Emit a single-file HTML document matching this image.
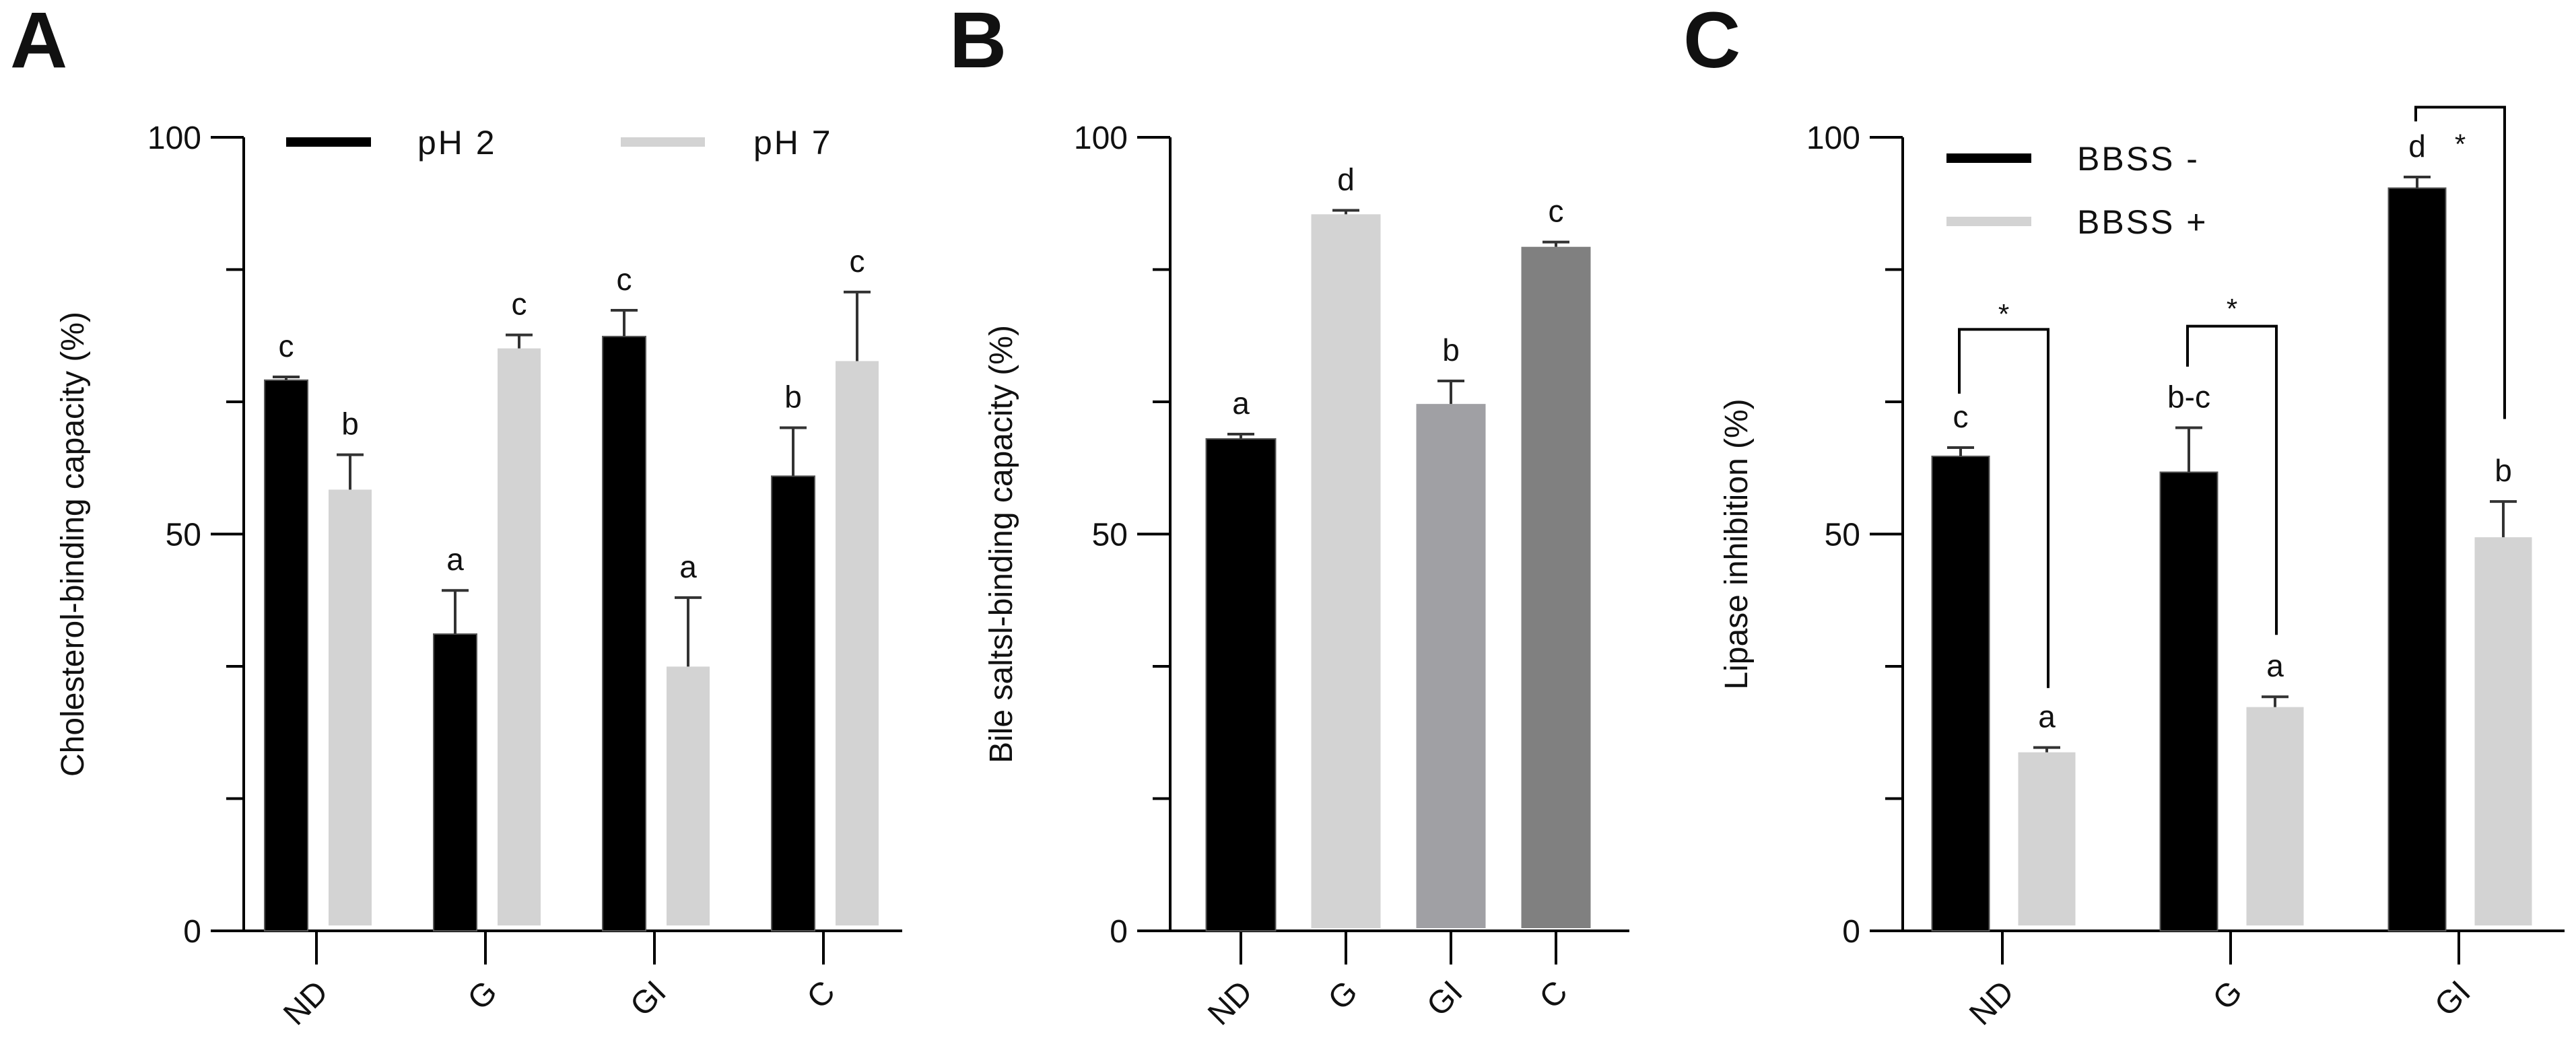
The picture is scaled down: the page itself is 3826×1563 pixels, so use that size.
<!DOCTYPE html>
<html><head><meta charset="utf-8">
<style>
html,body{margin:0;padding:0;background:#fff;}
svg{display:block;}
text{font-family:"Liberation Sans",Arial,sans-serif;fill:#111;}
</style></head>
<body>
<svg id="fig" width="3826" height="1563" viewBox="0 0 3826 1563" xmlns="http://www.w3.org/2000/svg">
<text x="15" y="100" font-size="118" font-weight="bold">A</text>
<text x="1410" y="100" font-size="118" font-weight="bold">B</text>
<text x="2500" y="100" font-size="118" font-weight="bold">C</text>
<g id="pa"></g>
<g id="pb"></g>
<g id="pc"></g>
</svg>
<script>
// Panel A data
const catsA = ["ND","G","GI","C"];
const ph2Vals = [69.4, 37.4, 74.9, 57.3];
const ph2Err = [0.4, 5.5, 3.3, 6.1];
const ph2Letters = ["c","a","c","b"];
const ph7Vals = [55.6, 73.4, 33.3, 71.8];
const ph7Err = [4.4, 1.7, 8.7, 8.7];
const ph7Letters = ["b","c","a","c"];
// Panel B data
const catsB = ["ND","G","GI","C"];
const bileVals = [62.0, 90.3, 66.4, 86.2];
const bileErr = [0.6, 0.5, 2.9, 0.6];
const bileLetters = ["a","d","b","c"];
// Panel C data
const catsC = ["ND","G","GI"];
const bbssMinusVals = [59.8, 57.8, 93.6];
const bbssMinusErr = [1.1, 5.6, 1.4];
const bbssMinusLetters = ["c","b-c","d"];
const bbssPlusVals = [22.5, 28.2, 49.6];
const bbssPlusErr = [0.6, 1.3, 4.5];
const bbssPlusLetters = ["a","a","b"];
// significance brackets (in data units)
const bracketTop = [75.8, 76.2, 103.8];
const bracketLeftEnd = [67.7, 71.1, 102.0];
const bracketRightEnd = [30.6, 37.3, 64.5];
const starLevel = [78.2, 78.9, 99.6];
const yTicks = [0, 50, 100];

const NS = "http://www.w3.org/2000/svg";
const Y0 = 1383, Y100 = 204;
function yScale(v){ return Y0 - (Y0 - Y100) * v / 100; }
function mk(parent, tag, attrs){
  const e = document.createElementNS(NS, tag);
  for (const k in attrs) e.setAttribute(k, attrs[k]);
  parent.appendChild(e);
  return e;
}
function axes(g, ax, xEnd, ticksX, cats, label, labelX, prefix){
  let e = mk(g, "line", {x1:ax, y1:Y100, x2:ax, y2:Y0, stroke:"#000", "stroke-width":4});
  
  
  e = mk(g, "line", {x1:ax, y1:Y0, x2:xEnd, y2:Y0, stroke:"#000", "stroke-width":4});
  
  
  for (let i = 0; i <= 6; i++){
    const v = i * 100 / 6, y = yScale(v);
    const major = (i % 3 === 0);
    e = mk(g, "line", {x1: ax - (major ? 49 : 26), y1:y, x2:ax, y2:y, stroke:"#000", "stroke-width":4});
    
    
  }
  yTicks.forEach(v => {
    const t = mk(g, "text", {x: ax - 63, y: yScale(v) + 17, "font-size":48, "text-anchor":"end", fill:"#222"});
    t.textContent = v;
    
    
  });
  cats.forEach((c, i) => {
    const x = ticksX[i];
    e = mk(g, "line", {x1:x, y1:Y0, x2:x, y2:Y0 + 50, stroke:"#000", "stroke-width":4});
    
    
    const t = mk(g, "text", {transform:`translate(${x + 8},${Y0 + 82}) rotate(-45)`, "font-size":48, "text-anchor":"end", dy:"0.35em", fill:"#222"});
    t.textContent = c;
    
    
  });
  const t = mk(g, "text", {transform:`translate(${labelX},${(Y0 + Y100) / 2 + 15}) rotate(-90)`, "font-size":48, "text-anchor":"middle", fill:"#333"});
  t.textContent = label;
  
  
}
function bar(g, cx, w, v, err, color, letter, prefix, gap){
  const top = yScale(v), bottom = color === "#000" ? Y0 : Y0 - (gap || 0);
  let e = mk(g, "rect", {x: cx - w/2, y: top, width: w, height: bottom - top, fill: color, stroke: color === "#000" ? "#555" : "none", "stroke-width": 2});
  
  
  const et = yScale(v + err);
  e = mk(g, "line", {x1:cx, y1:top, x2:cx, y2:et, stroke:"#333", "stroke-width":4});
  
  
  e = mk(g, "line", {x1:cx - 20, y1:et, x2:cx + 20, y2:et, stroke:"#333", "stroke-width":4});
  
  
  const t = mk(g, "text", {x:cx, y: et - 30, "font-size":46, "text-anchor":"middle", fill:"#111"});
  t.textContent = letter;
  
  
}
function legend(g, x1, x2, y, color, label, tx, prefix){
  let e = mk(g, "rect", {x:x1, y:y - 7, width:x2 - x1, height:14, fill:color});
  
  
  const t = mk(g, "text", {x:tx, y:y + 18, "font-size":50, fill:"#222", "letter-spacing":"3"});
  t.textContent = label;
  
  
}

// Panel A
(function(){
  const g = document.getElementById("pa");
  const ticks = catsA.map((c, i) => 470 + i * 251);
  axes(g, 362, 1340, ticks, catsA, "Cholesterol-binding capacity (%)", 124, "a");
  catsA.forEach((c, i) => {
    bar(g, ticks[i] - 45, 64, ph2Vals[i], ph2Err[i], "#000", ph2Letters[i], "a-ph2", 0);
    bar(g, ticks[i] + 50, 64, ph7Vals[i], ph7Err[i], "#d3d3d3", ph7Letters[i], "a-ph7", 8);
  });
  legend(g, 425, 551, 211, "#000", "pH 2", 620, "a-ph2");
  legend(g, 922, 1047, 211, "#d3d3d3", "pH 7", 1119, "a-ph7");
})();

// Panel B
(function(){
  const g = document.getElementById("pb");
  const ticks = catsB.map((c, i) => 1843 + i * 156);
  const colors = ["#000", "#d3d3d3", "#a0a0a4", "#808080"];
  axes(g, 1738, 2420, ticks, catsB, "Bile saltsl-binding capacity (%)", 1503, "b");
  catsB.forEach((c, i) => {
    bar(g, ticks[i], 103, bileVals[i], bileErr[i], colors[i], bileLetters[i], "b-" + c.toLowerCase(), 4);
  });
})();

// Panel C
(function(){
  const g = document.getElementById("pc");
  const ticks = catsC.map((c, i) => 2974 + i * 339);
  axes(g, 2826, 3809, ticks, catsC, "Lipase inhibition (%)", 2595, "c");
  catsC.forEach((c, i) => {
    bar(g, ticks[i] - 62, 85, bbssMinusVals[i], bbssMinusErr[i], "#000", bbssMinusLetters[i], "c-bbss-minus", 0);
    bar(g, ticks[i] + 66, 85, bbssPlusVals[i], bbssPlusErr[i], "#d3d3d3", bbssPlusLetters[i], "c-bbss-plus", 8);
    const lx = ticks[i] - 64, rx = ticks[i] + 68;
    const p = mk(g, "path", {d:`M${lx},${yScale(bracketLeftEnd[i])} V${yScale(bracketTop[i])} H${rx} V${yScale(bracketRightEnd[i])}`, fill:"none", stroke:"#000", "stroke-width":4});
    
    
    const s = mk(g, "text", {x:(lx + rx) / 2, y: yScale(starLevel[i]) + 20, "font-size":42, "text-anchor":"middle", fill:"#111"});
    s.textContent = "*";
    
    
  });
  legend(g, 2891, 3017, 235, "#000", "BBSS -", 3085, "c-bbss-minus");
  legend(g, 2891, 3017, 329, "#d3d3d3", "BBSS +", 3085, "c-bbss-plus");
})();
</script>
</body></html>
